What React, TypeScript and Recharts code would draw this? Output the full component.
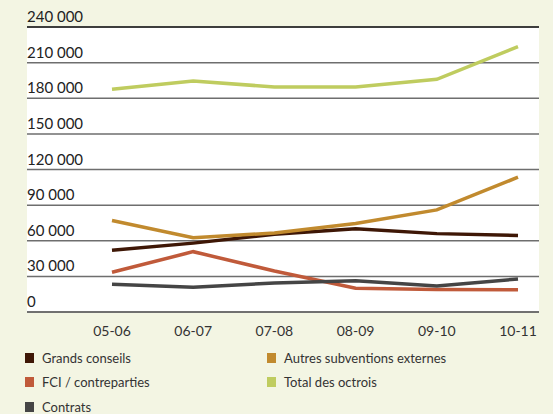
import { LineChart, Line, XAxis, YAxis, CartesianGrid, ReferenceLine } from 'recharts';

const seasons = ['05-06', '06-07', '07-08', '08-09', '09-10', '10-11'];
const grandsConseils = [52000, 58000, 65500, 70000, 66000, 64500];
const autresSubventions = [77000, 62500, 66500, 74500, 86000, 113500];
const fciContreparties = [33500, 50800, 34500, 20000, 19000, 18800];
const totalOctrois = [187500, 194500, 189500, 189500, 196000, 223500];
const contrats = [23300, 20800, 24400, 26400, 21900, 27800];
const yTicks = [0, 30000, 60000, 90000, 120000, 150000, 180000, 210000, 240000];

const series = [
  { key: 'grands', name: 'Grands conseils', color: '#3e1706', values: grandsConseils },
  { key: 'autres', name: 'Autres subventions externes', color: '#c18a2e', values: autresSubventions },
  { key: 'fci', name: 'FCI / contreparties', color: '#c05a3a', values: fciContreparties },
  { key: 'total', name: 'Total des octrois', color: '#bfcc5f', values: totalOctrois },
  { key: 'contrats', name: 'Contrats', color: '#454545', values: contrats },
];

const data = seasons.map((s, i) => {
  const row: any = { name: s };
  series.forEach((sr) => { row[sr.key] = sr.values[i]; });
  return row;
});

const fmt = (v: number) => (v === 0 ? '0' : `${Math.round(v / 1000)} 000`);

const YTick = (props: any) => {
  const { y, payload } = props;
  return (
    <text x={27} y={y - 5} textAnchor="start" fill="#222" fontSize={15} fontFamily="Lato, 'Open Sans', sans-serif">
      {fmt(payload.value)}
    </text>
  );
};

const legendOrder = ['grands', 'autres', 'fci', 'total', 'contrats'];

export default function App() {
  return (
    <div style={{ position: 'absolute', left: 0, top: 0, width: 553, height: 414, background: '#f3f5e3', fontFamily: "Lato, 'Open Sans', sans-serif" }}>
      <LineChart width={553} height={340} data={data} margin={{ top: 27, right: 14, left: 27, bottom: 0 }}>
        <CartesianGrid vertical={false} fill="#fff" stroke="#6e6e6e" strokeWidth={1.5} />
        <XAxis
          dataKey="name"
          height={28}
          padding={{ left: 85, right: 21 }}
          tickLine={false}
          axisLine={{ stroke: '#666', strokeWidth: 1.5 }}
          tick={{ fill: '#333', fontSize: 14 }}
          tickMargin={8}
        />
        <YAxis width={1} mirror domain={[0, 240000]} ticks={yTicks} axisLine={false} tickLine={false} tick={<YTick />} interval={0} />
        <ReferenceLine y={240000} stroke="#222" strokeWidth={1.5} />
        {series.map((s) => (
          <Line key={s.key} dataKey={s.key} name={s.name} stroke={s.color} strokeWidth={3.5} dot={false} isAnimationActive={false} />
        ))}
      </LineChart>
      <div style={{ position: 'absolute', left: 25, top: 348, width: 520, display: 'grid', gridTemplateColumns: '242px 260px', rowGap: 5.5 }}>
        {legendOrder.map((k) => {
          const s = series.find((x) => x.key === k)!;
          return (
            <div key={k} style={{ display: 'flex', alignItems: 'center', height: 19, fontSize: 13, color: '#333' }}>
              <span style={{ width: 9, height: 10, background: s.color, display: 'inline-block', marginRight: 8 }} />
              {s.name}
            </div>
          );
        })}
      </div>
    </div>
  );
}
